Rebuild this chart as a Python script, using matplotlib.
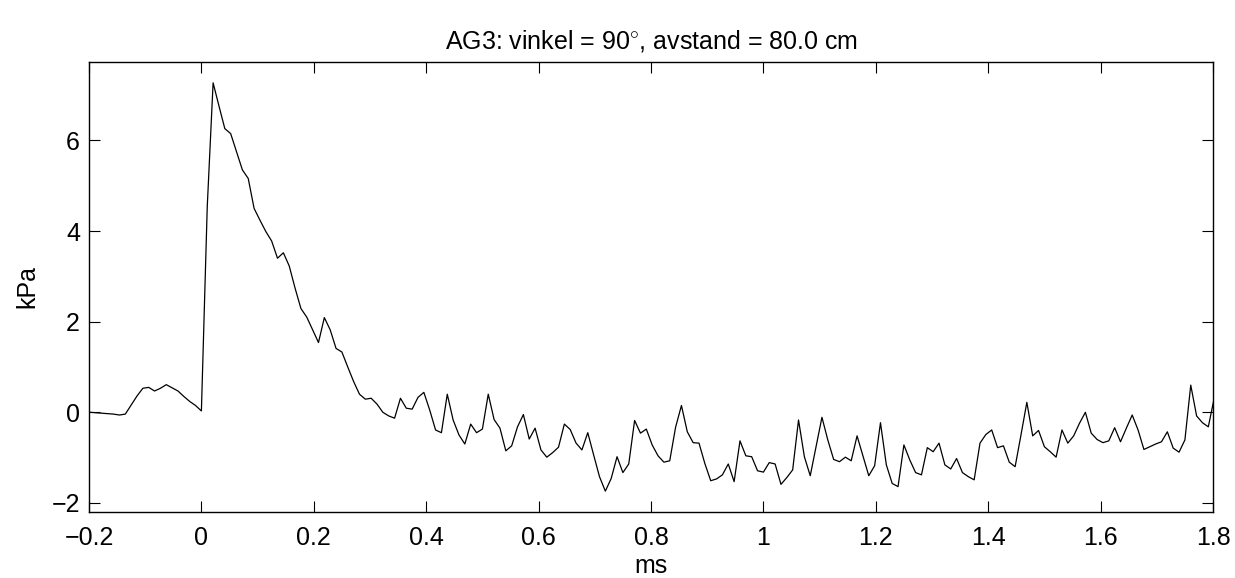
import numpy as np
import matplotlib
matplotlib.use("Agg")
import matplotlib.pyplot as plt
from matplotlib.ticker import FuncFormatter

plt.rcParams["font.family"] = ["Liberation Sans", "DejaVu Sans"]
plt.rcParams["mathtext.fontset"] = "custom"
plt.rcParams["mathtext.rm"] = "Liberation Sans"

# Sample rate 96 kHz -> one sample every 1/96 ms
fs_khz = 96.0
first_sample = -20

# Pressure samples (kPa)
pressure = [
    0.00, 0.00, -0.01, -0.02, -0.03, -0.04, -0.06, -0.04, 0.16, 0.36,
    0.53, 0.55, 0.47, 0.53, 0.61, 0.54, 0.47, 0.35, 0.24, 0.15,
    0.03, 4.54, 7.27, 6.76, 6.26, 6.15, 5.75, 5.35, 5.16, 4.50,
    4.24, 3.99, 3.78, 3.40, 3.52, 3.23, 2.74, 2.29, 2.10, 1.82,
    1.54, 2.09, 1.82, 1.41, 1.33, 1.00, 0.68, 0.40, 0.29, 0.31,
    0.18, 0.00, -0.08, -0.13, 0.31, 0.09, 0.07, 0.33, 0.44, 0.05,
    -0.39, -0.45, 0.40, -0.17, -0.50, -0.70, -0.26, -0.45, -0.37, 0.40,
    -0.16, -0.35, -0.85, -0.74, -0.32, -0.05, -0.59, -0.35, -0.83, -0.99,
    -0.89, -0.77, -0.26, -0.38, -0.68, -0.83, -0.45, -0.94, -1.42, -1.74,
    -1.46, -0.98, -1.33, -1.14, -0.18, -0.46, -0.37, -0.72, -0.96, -1.10,
    -1.07, -0.33, 0.15, -0.43, -0.67, -0.68, -1.13, -1.51, -1.47, -1.38,
    -1.14, -1.53, -0.63, -0.96, -0.98, -1.29, -1.32, -1.11, -1.14, -1.59,
    -1.44, -1.27, -0.17, -0.98, -1.40, -0.76, -0.11, -0.61, -1.04, -1.09,
    -0.99, -1.07, -0.52, -0.96, -1.40, -1.18, -0.23, -1.16, -1.57, -1.64,
    -0.72, -1.05, -1.33, -1.38, -0.78, -0.87, -0.68, -1.16, -1.25, -1.02,
    -1.33, -1.42, -1.49, -0.68, -0.49, -0.39, -0.78, -0.74, -1.10, -1.20,
    -0.50, 0.22, -0.52, -0.40, -0.76, -0.87, -0.99, -0.39, -0.68, -0.52,
    -0.24, 0.00, -0.46, -0.60, -0.67, -0.63, -0.34, -0.65, -0.35, -0.06,
    -0.39, -0.82, -0.76, -0.70, -0.65, -0.43, -0.79, -0.88, -0.61, 0.60,
    -0.08, -0.23, -0.32, 0.31,
]
time_ms = (np.arange(len(pressure)) + first_sample) / fs_khz

x_ticks = [-0.2, 0, 0.2, 0.4, 0.6, 0.8, 1, 1.2, 1.4, 1.6, 1.8]
y_ticks = [-2, 0, 2, 4, 6]
title = r"AG3: vinkel = 90$^{\circ}$, avstand = 80.0 cm"

fs = 18

fig = plt.figure(figsize=(12.35, 5.78), dpi=100)
ax = fig.add_axes([89 / 1235, 1 - 512 / 578, (1213 - 89) / 1235, (512 - 62) / 578])
ax.plot(time_ms, pressure, color="black", linewidth=0.9)

ax.set_xlim(-0.2, 1.8)
ax.set_ylim(-2.2, 7.73)
ax.set_xticks(x_ticks)
ax.set_yticks(y_ticks)
fmt = FuncFormatter(lambda v, p: ("%g" % v).replace("-", "\u2212"))
ax.xaxis.set_major_formatter(fmt)
ax.yaxis.set_major_formatter(fmt)
ax.tick_params(direction="in", length=8, width=0.8, top=True, right=True,
               labelsize=fs)
ax.tick_params(axis="x", pad=10)
ax.tick_params(axis="y", pad=6.5)
for s in ax.spines.values():
    s.set_linewidth(1.0)

ax.set_xlabel("ms", fontsize=fs, labelpad=3)
ax.set_ylabel("kPa", fontsize=fs, labelpad=9)
ax.set_title(title, fontsize=fs, pad=10)

fig.savefig("out.png", dpi=100)
